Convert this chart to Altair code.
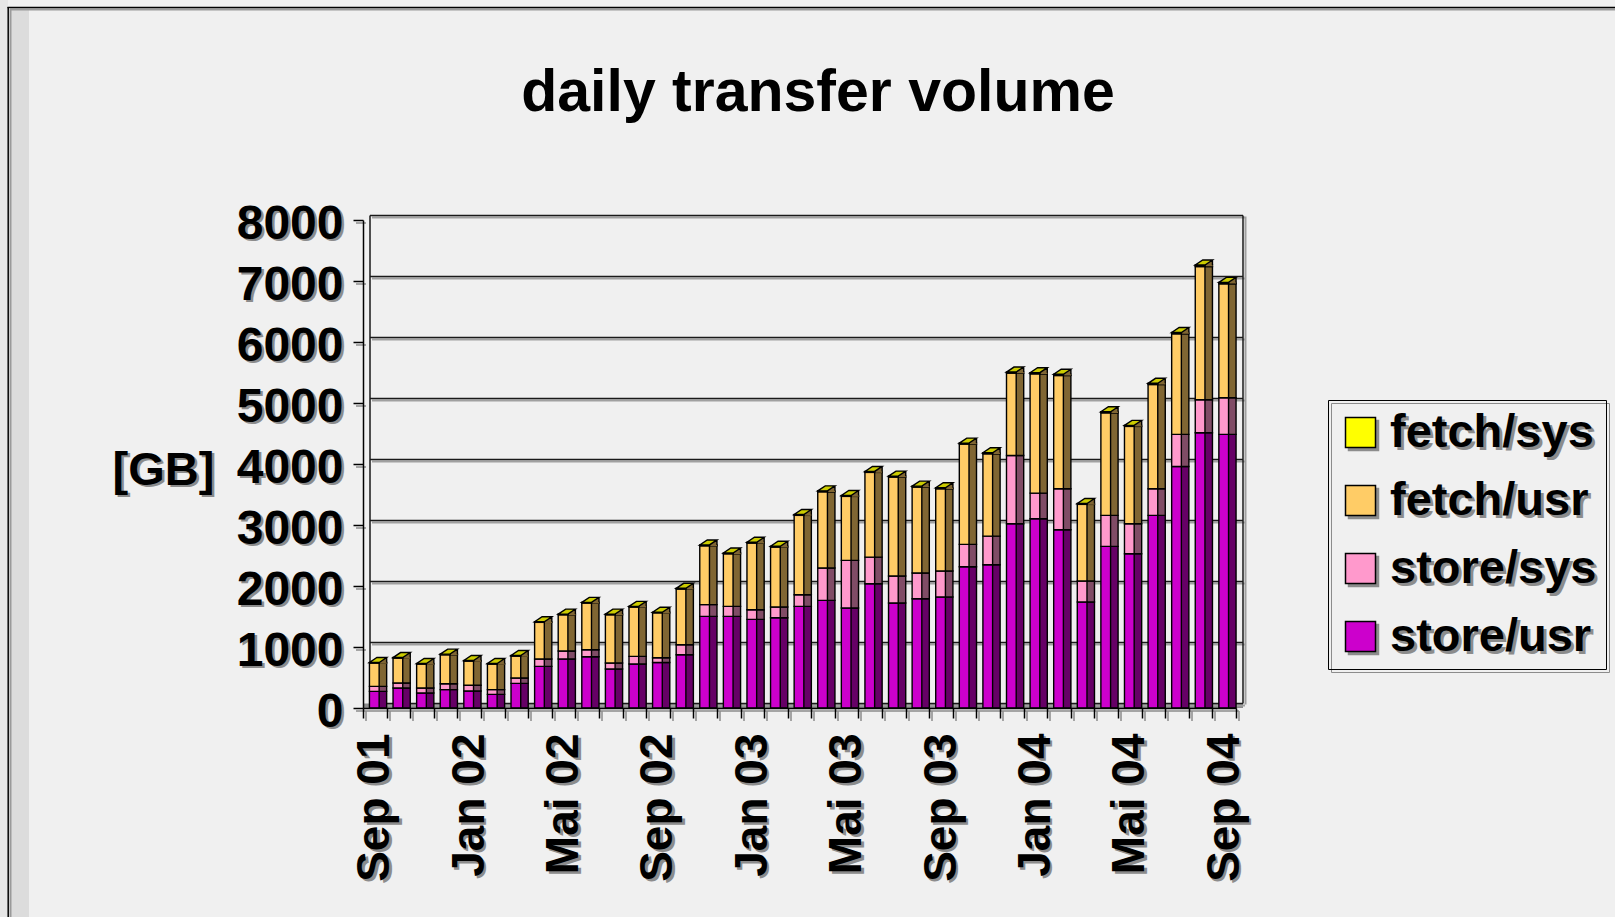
import json

import altair as alt
import pandas as pd

# ---------------------------------------------------------------- data
months = [
    "Sep 01", "Okt 01", "Nov 01", "Dez 01",
    "Jan 02", "Feb 02", "Mrz 02", "Apr 02", "Mai 02", "Jun 02",
    "Jul 02", "Aug 02", "Sep 02", "Okt 02", "Nov 02", "Dez 02",
    "Jan 03", "Feb 03", "Mrz 03", "Apr 03", "Mai 03", "Jun 03",
    "Jul 03", "Aug 03", "Sep 03", "Okt 03", "Nov 03", "Dez 03",
    "Jan 04", "Feb 04", "Mrz 04", "Apr 04", "Mai 04", "Jun 04",
    "Jul 04", "Aug 04", "Sep 04",
]
labeled_months = ["Sep 01", "Jan 02", "Mai 02", "Sep 02", "Jan 03",
                  "Mai 03", "Sep 03", "Jan 04", "Mai 04", "Sep 04"]

series_names = ["fetch/sys", "fetch/usr", "store/sys", "store/usr"]
series_colors = ["#FFFF00", "#FFCC66", "#FF99CC", "#CC00CC"]
side_colors = ["#808000", "#806633", "#804C66", "#660066"]

store_usr = [273, 328, 246, 301, 278, 224, 404, 683, 803, 841, 639, 721,
             746, 872, 1502, 1502, 1453, 1480, 1666, 1765, 1639, 2037, 1721,
             1791, 1819, 2316, 2349, 3021, 3103, 2922, 1737, 2650, 2529, 3158,
             3960, 4512, 4485]
store_sys = [82, 81, 82, 97, 94, 77, 88, 120, 131, 115, 99, 125,
             79, 166, 192, 164, 158, 175, 191, 529, 781, 437, 442,
             421, 426, 366, 469, 1119, 420, 673, 344, 508, 492, 437,
             525, 541, 600]
fetch_usr = [383, 410, 393, 476, 398, 420, 360, 601, 595, 765, 791, 809,
             735, 912, 966, 863, 1093, 984, 1301, 1251, 1049, 1388, 1623,
             1410, 1350, 1644, 1350, 1349, 1955, 1857, 1257, 1681, 1595, 1709,
             1650, 2185, 1869]
fetch_sys = [8, 8, 8, 9, 8, 8, 9, 10, 10, 11, 10, 11,
             10, 12, 13, 12, 13, 12, 14, 15, 14, 16, 16,
             15, 15, 17, 16, 18, 19, 19, 15, 18, 17, 19,
             21, 24, 23]

gb_ticks = [0, 1000, 2000, 3000, 4000, 5000, 6000, 7000, 8000]
title_text = "daily transfer volume"
y_title = "[GB]"

# ---------------------------------------------------------------- tables
series_values = {
    "store/usr": store_usr,
    "store/sys": store_sys,
    "fetch/usr": fetch_usr,
    "fetch/sys": fetch_sys,
}
stack_rank = {"store/usr": 0, "store/sys": 1, "fetch/usr": 2, "fetch/sys": 3}
rows = []
for name, vals in series_values.items():
    for m, v in zip(months, vals):
        rows.append({"month": m, "series": name, "gb": v, "rank": stack_rank[name]})
long_df = pd.DataFrame(rows)
tot_df = pd.DataFrame({
    "month": months,
    "total": [a + b + c + d for a, b, c, d in zip(store_usr, store_sys, fetch_usr, fetch_sys)],
})
grid_df = pd.DataFrame({"v": gb_ticks})
one_df = pd.DataFrame({"k": [0]})
title_df = pd.DataFrame({"t": [title_text]})

# ---------------------------------------------------------------- layout / style
W, H = 873, 488
PAD = {"left": 363, "top": 220, "right": 1615 - 363 - W, "bottom": 917 - 220 - H}
FONT = "Liberation Sans"
BG = "#F0F0F0"
SHADOW = "#8C8C8C"
BAR_W = 9.7          # front face width
FRONT_DX = -0.5      # front face shift inside its band
DEPTH_X, DEPTH_Y = 7.5, 5.0   # 3-D depth of the columns
WALL_DX, WALL_DY = 7.0, 4.5   # back wall offset
EDGE = 1.4

half = BAR_W / 2
s = half + DEPTH_X
sym_size = (2 * s) ** 2
dy = DEPTH_Y / s
cap_path = (f"M{-half / s:.4f},0L{half / s:.4f},0L1,{-dy:.4f}"
            f"L{(DEPTH_X - half) / s:.4f},{-dy:.4f}ZM1,{-dy:.4f}L1,0")
corner_path = (f"M{half / s:.4f},0L1,{-dy:.4f}L1,{1.2 / s:.4f}"
               f"L{half / s:.4f},{1.2 / s:.4f}Z")

x_scale = alt.Scale(type="band", domain=months, paddingInner=0, paddingOuter=0)
y_scale = alt.Scale(domain=[0, 8000], nice=False, zero=True)

label_expr = f"indexof({json.dumps(labeled_months)}, datum.value) >= 0 ? datum.value : ''"


def x_axis(color, shadow):
    kw = dict(
        orient="bottom", title=None, grid=False, labelExpr=label_expr,
        labelAngle=270, labelAlign="right", labelBaseline="middle",
        labelFont=FONT, labelFontSize=46, labelFontWeight="bold", labelColor=color,
        labelPadding=15, ticks=True, tickBand="extent", tickSize=10,
        tickWidth=1.5, tickColor=color, domain=True, domainColor=color,
        domainWidth=1.5, labelOverlap=False, zindex=0 if shadow else 1,
    )
    if shadow:
        kw["translate"] = 3
    return alt.Axis(**kw)


def y_axis(color, shadow):
    kw = dict(
        orient="left", values=gb_ticks, format="d", grid=False,
        labelFont=FONT, labelFontSize=48, labelFontWeight="bold", labelColor=color,
        labelPadding=10, labelOffset=4, ticks=True, tickSize=10, tickWidth=1.5,
        tickColor=color, domain=not shadow, domainColor=color, domainWidth=1.5,
        title=y_title, titleAngle=0, titleX=-200, titleY=250, titleAlign="center",
        titleBaseline="middle", titleFont=FONT, titleFontSize=47,
        titleFontWeight="bold", titleColor=color, zindex=0 if shadow else 1,
    )
    if shadow:
        kw["translate"] = 3
    return alt.Axis(**kw)


def legend(color, shadow):
    return alt.Legend(
        title=None, orient="none",
        legendX=965 + (3 if shadow else 0), legendY=180 + (3 if shadow else 0),
        padding=9, rowPadding=20, symbolType="square", symbolSize=900,
        symbolStrokeColor=color, symbolStrokeWidth=1.5, symbolOpacity=1,
        labelFont=FONT, labelFontSize=47, labelFontWeight="bold", labelColor=color,
        labelOffset=6, labelLimit=400,
        strokeColor=SHADOW if shadow else "black",
        fillColor=BG if shadow else "transparent",
        zindex=1 if shadow else 2,
    )


# ---------------------------------------------------------------- slide frame
def hrule(y, x1, x2, color, width):
    return alt.Chart(one_df).mark_rule(color=color, strokeWidth=width).encode(
        x=alt.value(x1 - PAD["left"]), x2=alt.value(x2 - PAD["left"]),
        y=alt.value(y - PAD["top"]))


def vrule(x, y1, y2, color, width):
    return alt.Chart(one_df).mark_rule(color=color, strokeWidth=width).encode(
        x=alt.value(x - PAD["left"]), y=alt.value(y1 - PAD["top"]),
        y2=alt.value(y2 - PAD["top"]))


def band_rect(x1, x2, y1, y2, color):
    return alt.Chart(one_df).mark_rect(color=color).encode(
        x=alt.value(x1 - PAD["left"]), x2=alt.value(x2 - PAD["left"]),
        y=alt.value(y1 - PAD["top"]), y2=alt.value(y2 - PAD["top"]))


frame = [
    band_rect(0, 8, 0, 917, "#E6E6E6"),
    band_rect(10, 29, 10, 917, "#DCDCDC"),
    hrule(9.5, 10, 1615, "#9A9A9A", 2),
    vrule(10.5, 9, 917, "#9A9A9A", 2),
    hrule(7.5, 7.5, 1615, "black", 1.5),
    vrule(8.2, 7, 917, "black", 1.5),
]

# ---------------------------------------------------------------- chart walls
floor = alt.Chart(one_df).mark_rect(color="#8C8C8C", y2Offset=-WALL_DY).encode(
    x=alt.value(0), x2=alt.value(W + WALL_DX),
    y=alt.Y(datum=0, scale=y_scale, axis=None), y2=alt.Y2(datum=0))

grid_shadow = alt.Chart(grid_df).mark_rule(
    color="#A0A0A0", strokeWidth=2, yOffset=-WALL_DY + 2).encode(
    y=alt.Y("v:Q", scale=y_scale, axis=None),
    x=alt.value(WALL_DX + 2), x2=alt.value(W + WALL_DX + 2))

grid = alt.Chart(grid_df).mark_rule(
    color="#1A1A1A", strokeWidth=1.5, yOffset=-WALL_DY).encode(
    y=alt.Y("v:Q", scale=y_scale, axis=None),
    x=alt.value(WALL_DX), x2=alt.value(W + WALL_DX))


def wall_edge(xpos, color, width, shift):
    return alt.Chart(one_df).mark_rule(
        color=color, strokeWidth=width, yOffset=-WALL_DY + shift,
        y2Offset=-WALL_DY + shift).encode(
        x=alt.value(xpos),
        y=alt.Y(datum=0, scale=y_scale, axis=None), y2=alt.Y2(datum=8000))


walls = [
    wall_edge(W + WALL_DX + 2.5, "#A0A0A0", 2, 1),
    wall_edge(W + WALL_DX, "#1A1A1A", 1.5, 0),
    wall_edge(WALL_DX, "#1A1A1A", 1.5, 0),
]

# ---------------------------------------------------------------- columns
base = alt.Chart(long_df)

# invisible copy carrying the drop-shadow axes and legend
shadow_layer = base.mark_bar(opacity=0, width=BAR_W).encode(
    x=alt.X("month:N", sort=months, scale=x_scale, axis=x_axis(SHADOW, True)),
    y=alt.Y("gb:Q", stack="zero", scale=y_scale, axis=y_axis(SHADOW, True)),
    color=alt.Color("series:N",
                    scale=alt.Scale(domain=series_names, range=[SHADOW] * len(series_names)),
                    legend=legend(SHADOW, True)),
    order=alt.Order("rank:Q"),
)

side = base.mark_bar(width=BAR_W, xOffset=FRONT_DX + DEPTH_X,
                     stroke="black", strokeWidth=EDGE).encode(
    x=alt.X("month:N", sort=months, scale=x_scale, axis=None),
    y=alt.Y("gb:Q", stack="zero", scale=y_scale, axis=None),
    color=alt.Color("series:N", scale=alt.Scale(domain=series_names, range=side_colors),
                    legend=None),
    order=alt.Order("rank:Q"),
)

corner = alt.Chart(tot_df).mark_point(
    shape=corner_path, size=sym_size, filled=True, fill="#806633",
    strokeWidth=0, opacity=1, xOffset=FRONT_DX).encode(
    x=alt.X("month:N", sort=months, scale=x_scale, axis=None),
    y=alt.Y("total:Q", scale=y_scale, axis=None),
)

front = base.mark_bar(width=BAR_W, xOffset=FRONT_DX,
                      stroke="black", strokeWidth=EDGE).encode(
    x=alt.X("month:N", sort=months, scale=x_scale, axis=x_axis("black", False)),
    y=alt.Y("gb:Q", stack="zero", scale=y_scale, axis=y_axis("black", False)),
    color=alt.Color("series:N", scale=alt.Scale(domain=series_names, range=series_colors),
                    legend=legend("black", False)),
    order=alt.Order("rank:Q"),
)

cap = alt.Chart(tot_df).mark_point(
    shape=cap_path, size=sym_size, filled=True, fill="#CCCC00",
    stroke="black", strokeWidth=EDGE, opacity=1, xOffset=FRONT_DX).encode(
    x=alt.X("month:N", sort=months, scale=x_scale, axis=None),
    y=alt.Y("total:Q", scale=y_scale, axis=None),
)

title = alt.Chart(title_df).mark_text(
    font=FONT, fontSize=59, fontWeight="bold", color="black",
    align="center", baseline="alphabetic").encode(
    text="t:N", x=alt.value(818 - PAD["left"]), y=alt.value(111 - PAD["top"]))

chart = alt.layer(
    *frame, floor, grid_shadow, grid, *walls,
    shadow_layer, side, corner, front, cap, title,
).resolve_scale(
    color="independent"
).resolve_axis(
    x="independent", y="independent"
).properties(
    width=W, height=H, padding=PAD,
    autosize=alt.AutoSizeParams(type="none"),
).configure(
    background=BG,
).configure_view(
    strokeWidth=0,
)

chart.save("out.html", embed_options={"renderer": "svg", "actions": False})
